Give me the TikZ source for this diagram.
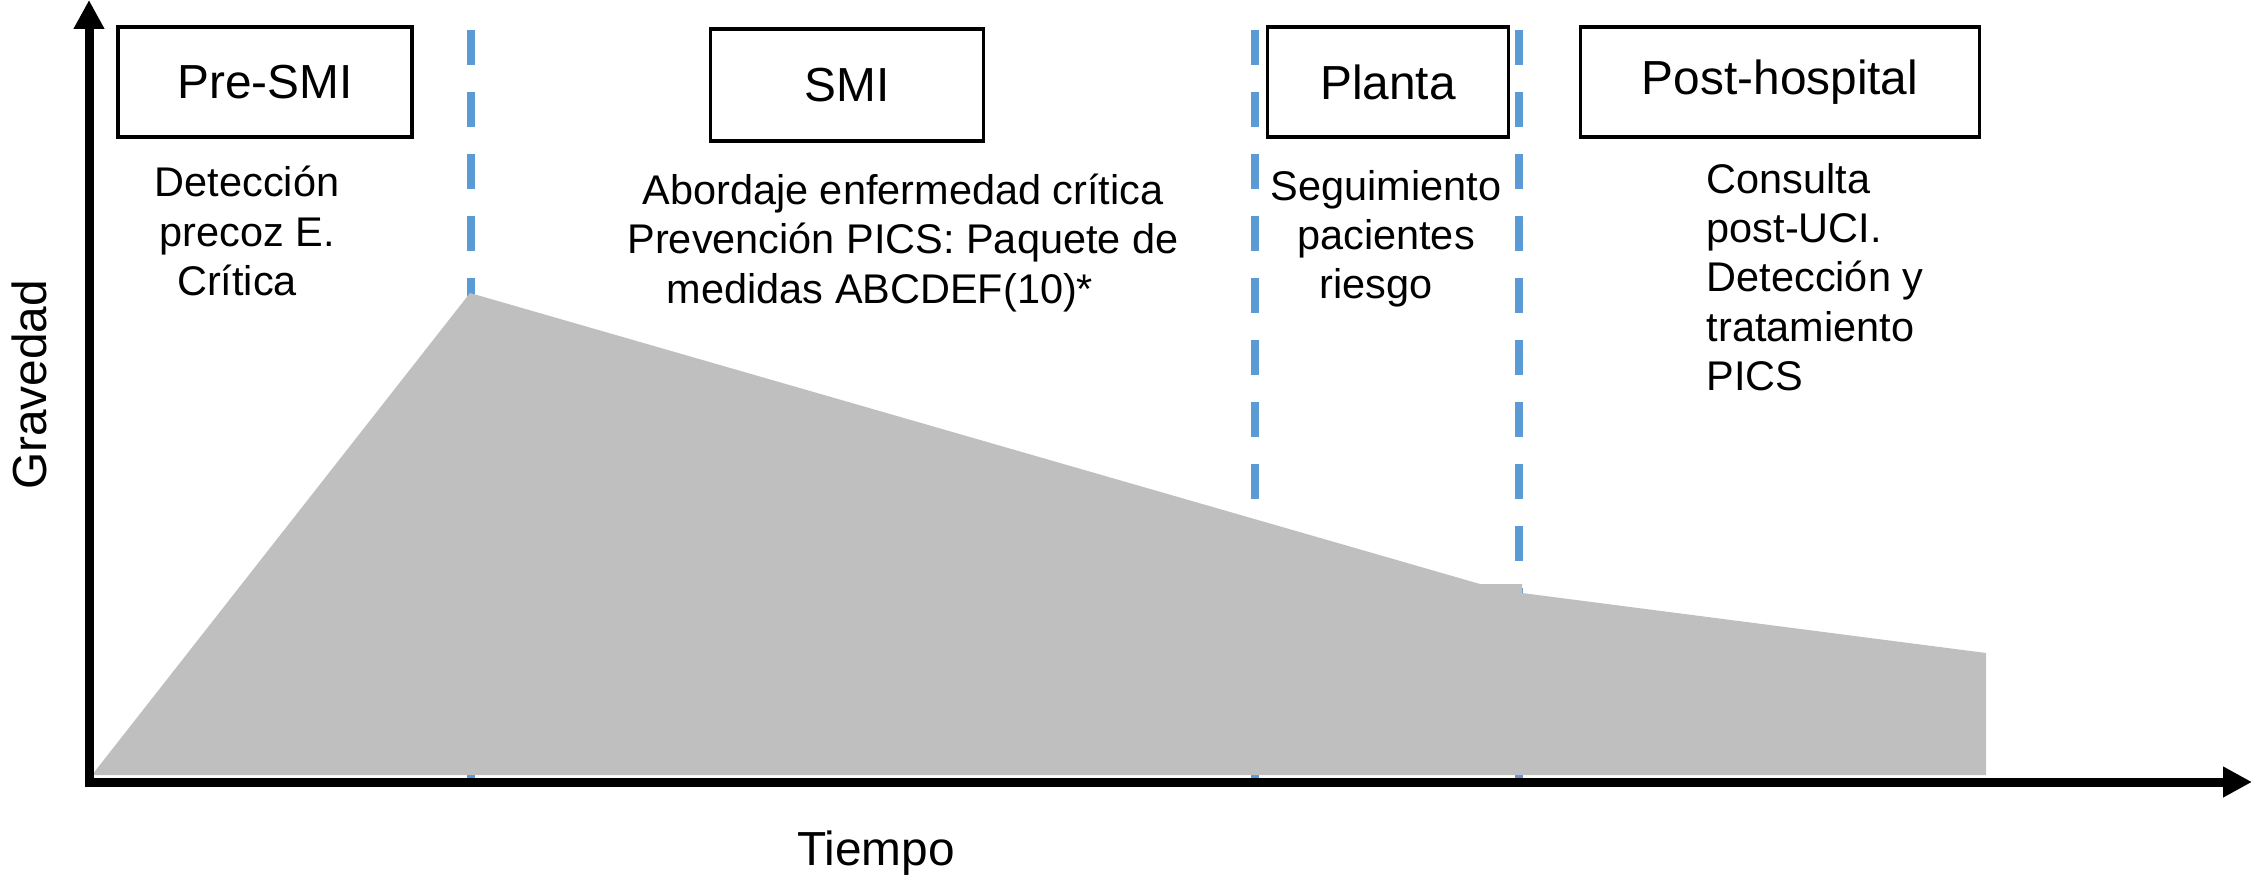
\documentclass[tikz,border=0pt]{standalone}
\usepackage{fontspec}
\setmainfont{Liberation Sans}
\usetikzlibrary{arrows.meta}
\definecolor{areagray}{RGB}{191,191,191}
\definecolor{phaseblue}{RGB}{91,155,213}

\begin{document}
\begin{tikzpicture}[x=0.1mm, y=-0.1mm,
    phasebox/.style={draw, line width=0.9pt, minimum height=11mm,
                     inner sep=0pt, font=\fontsize{13.6}{16}\selectfont},
    desc/.style={align=center, inner sep=0pt,
                 font=\fontsize{11.8}{14}\selectfont},
    axlbl/.style={inner sep=0pt, font=\fontsize{13.6}{16}\selectfont},
    axis/.style={line width=0.9mm, -{Triangle[length=2.9mm, width=2.9mm]}},
    divider/.style={draw=phaseblue, line width=0.8mm,
                    dash pattern=on 3.5mm off 2.7mm}]
  \useasboundingbox (0,0) rectangle (2252,877);

  % phase limits
  \foreach \x in {471,1255,1519}
    \draw[divider] (\x,30) -- (\x,782);

  % severity over time
  \fill[areagray] (92,775) -- (470,293) -- (1480,584) -- (1522,584)
    -- (1522,593) -- (1986,653) -- (1986,775) -- cycle;

  \coordinate (orig) at (89,782);
  \coordinate (ytop) at (89,0);
  \coordinate (xend) at (2252,782);
  \draw[axis] ([yshift=-0.5mm]orig) -- (ytop);
  \draw[axis] (orig) -- (xend);

  \node[axlbl, rotate=90] (grav) at (29,385) {Gravedad};
  \node[axlbl] (tiempo) at (876,853) {Tiempo};

  \node[phasebox, minimum width=29.4mm] (pre) at (265,82) {Pre-SMI};
  \node[phasebox, minimum width=27.3mm, minimum height=11.2mm] (smi) at (847,85) {SMI};
  \node[phasebox, minimum width=24.1mm] (planta) at (1388,82) {Planta};
  \node[phasebox, minimum width=39.9mm] (post) at (1780,82) {Post-hospital};

  \node[desc] (preTxt) at (247,231) {Detección\\precoz E.\\Crítica\hspace*{2mm}};
  \node[desc] (smiTxt) at (903,243) {Abordaje enfermedad crítica\\
    Prevención PICS: Paquete de\\medidas ABCDEF(10)*\hspace*{4.6mm}};
  \node[desc] (plantaTxt) at (1386,239) {Seguimiento\\pacientes\\riesgo\hspace*{2mm}};
  \node[desc, align=left, anchor=west] (postTxt) at (1706,277)
    {Consulta\\post-UCI.\\Detección y\\tratamiento\\PICS};
\end{tikzpicture}
\end{document}
